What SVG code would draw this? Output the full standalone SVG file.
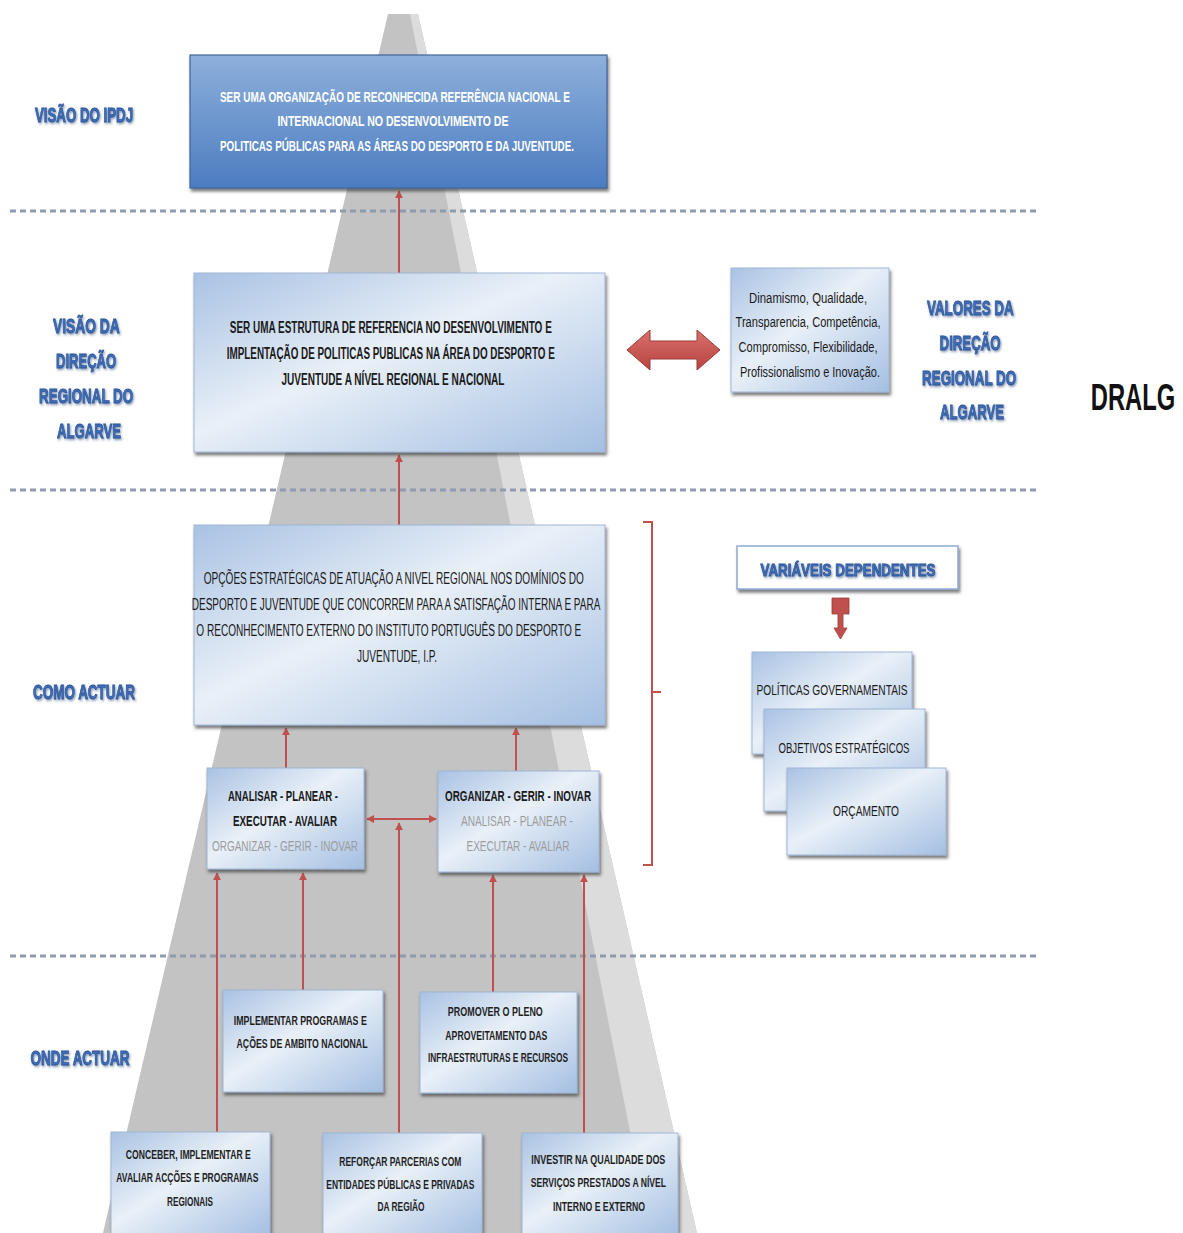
<svg xmlns="http://www.w3.org/2000/svg" width="1183" height="1233" viewBox="0 0 1183 1233">
<defs>
<style>
.bt{font-family:"Liberation Sans",Arial,sans-serif;font-weight:bold;fill:#1a1a1a;text-anchor:middle}
.mt{font-family:"Liberation Sans",Arial,sans-serif;font-weight:bold;fill:#1f1f1f;text-anchor:middle}
.wt{font-family:"Liberation Sans",Arial,sans-serif;font-weight:bold;fill:#ffffff;text-anchor:middle}
.gt{font-family:"Liberation Sans",Arial,sans-serif;fill:#9c9c9c;text-anchor:middle}
.nt{font-family:"Liberation Sans",Arial,sans-serif;fill:#1a1a1a;text-anchor:middle}
.lab{font-family:"Liberation Sans",Arial,sans-serif;font-weight:bold;fill:#3e6db8;stroke:#2d5597;stroke-width:0.8;text-anchor:middle}
.box{fill:url(#lb);stroke:#9fb5d3;stroke-width:1}
.con{stroke:#c0504d;stroke-width:2;fill:none}
.dash{stroke:#8d9cae;stroke-width:3;stroke-dasharray:6 4}
</style>
<linearGradient id="lb" x1="0" y1="0" x2="1" y2="1">
<stop offset="0" stop-color="#a9c2e3"/>
<stop offset="0.45" stop-color="#e9f0f8"/>
<stop offset="1" stop-color="#a4bfe2"/>
</linearGradient>
<linearGradient id="db" x1="0" y1="0" x2="0" y2="1">
<stop offset="0" stop-color="#8eb0db"/>
<stop offset="1" stop-color="#4c7cc0"/>
</linearGradient>
<linearGradient id="ra" x1="0" y1="0" x2="0" y2="1">
<stop offset="0" stop-color="#d9706d"/>
<stop offset="1" stop-color="#b8433f"/>
</linearGradient>
<filter id="sh" x="-10%" y="-10%" width="125%" height="130%">
<feDropShadow dx="1.5" dy="3" stdDeviation="1.5" flood-color="#3a3a3a" flood-opacity="0.65"/>
</filter>
<filter id="ts" x="-10%" y="-20%" width="120%" height="150%">
<feDropShadow dx="1" dy="1.5" stdDeviation="1" flood-color="#1f3c6e" flood-opacity="0.55"/>
</filter>
<marker id="ah" viewBox="0 0 10 10" refX="9" refY="5" markerWidth="4" markerHeight="4" orient="auto-start-reverse">
<path d="M0,0 L10,5 L0,10 z" fill="#c0504d"/>
</marker>
</defs>
<rect width="1183" height="1233" fill="#ffffff"/>

<g id="pyramid">
<polygon points="388,14 418,14 697,1233 103,1233" fill="#c3c3c3"/>
<polygon points="410,14 418,14 697,1233 650,1233" fill="#dcdcdc"/>
</g>

<g id="separators">
<line class="dash" x1="10" y1="211" x2="1040" y2="211"/>
<line class="dash" x1="10" y1="490" x2="1040" y2="490"/>
<line class="dash" x1="10" y1="956" x2="1040" y2="956"/>
</g>

<g id="labels">
<text class="lab" filter="url(#ts)" x="84" y="122" font-size="20" textLength="98" lengthAdjust="spacingAndGlyphs">VISÃO DO IPDJ</text>
<text class="lab" filter="url(#ts)" font-size="21">
<tspan x="89" y="333" textLength="66" lengthAdjust="spacingAndGlyphs">VISÃO DA</tspan>
<tspan x="89" y="368" textLength="60" lengthAdjust="spacingAndGlyphs">DIREÇÃO</tspan>
<tspan x="89" y="403" textLength="94" lengthAdjust="spacingAndGlyphs">REGIONAL DO</tspan>
<tspan x="89" y="438" textLength="64" lengthAdjust="spacingAndGlyphs">ALGARVE</tspan>
</text>
<text class="lab" filter="url(#ts)" x="84" y="699" font-size="20" textLength="102" lengthAdjust="spacingAndGlyphs">COMO ACTUAR</text>
<text class="lab" filter="url(#ts)" x="80" y="1065" font-size="20" textLength="99" lengthAdjust="spacingAndGlyphs">ONDE ACTUAR</text>
<text class="lab" filter="url(#ts)" font-size="21">
<tspan x="973" y="315" textLength="86" lengthAdjust="spacingAndGlyphs">VALORES DA</tspan>
<tspan x="973" y="350" textLength="61" lengthAdjust="spacingAndGlyphs">DIREÇÃO</tspan>
<tspan x="972" y="385" textLength="94" lengthAdjust="spacingAndGlyphs">REGIONAL DO</tspan>
<tspan x="972" y="419" textLength="64" lengthAdjust="spacingAndGlyphs">ALGARVE</tspan>
</text>
<text transform="translate(1133,410) scale(0.66,1)" x="0" y="0" font-family="Liberation Sans, Arial, sans-serif" font-weight="bold" font-size="36" fill="#111111" text-anchor="middle">DRALG</text>
</g>

<g id="connectors">
<line class="con" x1="399" y1="273" x2="399" y2="191" marker-end="url(#ah)"/>
<line class="con" x1="399" y1="525" x2="399" y2="455" marker-end="url(#ah)"/>
<line class="con" x1="286" y1="768" x2="286" y2="728" marker-end="url(#ah)"/>
<line class="con" x1="516" y1="771" x2="516" y2="728" marker-end="url(#ah)"/>
<line class="con" x1="217" y1="1132" x2="217" y2="873" marker-end="url(#ah)"/>
<line class="con" x1="303" y1="990" x2="303" y2="873" marker-end="url(#ah)"/>
<line class="con" x1="493" y1="992" x2="493" y2="875" marker-end="url(#ah)"/>
<line class="con" x1="584" y1="1133" x2="584" y2="875" marker-end="url(#ah)"/>
<line class="con" x1="399" y1="1133" x2="399" y2="823" marker-end="url(#ah)"/>
<line class="con" x1="367" y1="819" x2="436" y2="819" stroke-width="2.5" marker-start="url(#ah)" marker-end="url(#ah)"/>
<path class="con" d="M643,522 L652,522 L652,865 L643,865 M652,692 L661,692"/>
<polygon points="627,350 650,330 650,341 697,341 697,330 720,350 697,370 697,359 650,359 650,370" fill="url(#ra)" stroke="#9b3a37" stroke-width="1"/>
<path d="M832,598 L849,598 L849,614 L843,614 L843,628 L847,628 L840.5,639 L834,628 L838,628 L838,614 L832,614 Z" fill="#c0504d" stroke="#9b3a37" stroke-width="0.8"/>
</g>

<g id="n-ipdj">
<rect x="190" y="55" width="417" height="133" fill="url(#db)" stroke="#3f6699" stroke-width="1.2" filter="url(#sh)"/>
<text class="wt" font-size="15">
<tspan x="397" y="102" textLength="350" lengthAdjust="spacingAndGlyphs">SER UMA ORGANIZAÇÃO DE RECONHECIDA REFERÊNCIA NACIONAL E</tspan>
<tspan x="395" y="126" textLength="231" lengthAdjust="spacingAndGlyphs">INTERNACIONAL NO DESENVOLVIMENTO DE</tspan>
<tspan x="397" y="151" textLength="354" lengthAdjust="spacingAndGlyphs">POLITICAS PÚBLICAS PARA AS ÁREAS DO DESPORTO E DA JUVENTUDE.</tspan>
</text>
</g>

<g id="n-visao-dralg">
<rect class="box" x="194" y="273" width="411" height="179" filter="url(#sh)"/>
<text class="bt" font-size="16">
<tspan x="393" y="333" textLength="322" lengthAdjust="spacingAndGlyphs">SER UMA ESTRUTURA DE REFERENCIA NO DESENVOLVIMENTO E</tspan>
<tspan x="393" y="359" textLength="328" lengthAdjust="spacingAndGlyphs">IMPLENTAÇÃO DE POLITICAS PUBLICAS NA ÁREA DO DESPORTO E</tspan>
<tspan x="393" y="385" textLength="223" lengthAdjust="spacingAndGlyphs">JUVENTUDE A NÍVEL REGIONAL E NACIONAL</tspan>
</text>
</g>

<g id="n-valores">
<rect class="box" x="731" y="268" width="158" height="124" filter="url(#sh)"/>
<text class="nt" font-size="14">
<tspan x="810" y="303" textLength="118" lengthAdjust="spacingAndGlyphs">Dinamismo, Qualidade,</tspan>
<tspan x="810" y="327" textLength="145" lengthAdjust="spacingAndGlyphs">Transparencia, Competência,</tspan>
<tspan x="810" y="352" textLength="139" lengthAdjust="spacingAndGlyphs">Compromisso, Flexibilidade,</tspan>
<tspan x="810" y="377" textLength="140" lengthAdjust="spacingAndGlyphs">Profissionalismo e Inovação.</tspan>
</text>
</g>

<g id="n-opcoes">
<rect class="box" x="194" y="525" width="411" height="200" filter="url(#sh)"/>
<text class="nt" font-size="16">
<tspan x="396" y="584" textLength="380" lengthAdjust="spacingAndGlyphs">OPÇÕES ESTRATÉGICAS DE ATUAÇÃO A NIVEL REGIONAL NOS DOMÍNIOS DO</tspan>
<tspan x="398" y="610" textLength="408" lengthAdjust="spacingAndGlyphs">DESPORTO E JUVENTUDE QUE CONCORREM PARA A SATISFAÇÃO INTERNA E PARA</tspan>
<tspan x="391" y="636" textLength="385" lengthAdjust="spacingAndGlyphs">O RECONHECIMENTO EXTERNO DO INSTITUTO PORTUGUÊS DO DESPORTO E</tspan>
<tspan x="397" y="662" textLength="80" lengthAdjust="spacingAndGlyphs">JUVENTUDE, I.P.</tspan>
</text>
</g>

<g id="n-analisar">
<rect class="box" x="207" y="768" width="157" height="101" filter="url(#sh)"/>
<text class="bt" font-size="15">
<tspan x="285" y="801" textLength="110" lengthAdjust="spacingAndGlyphs">ANALISAR - PLANEAR -</tspan>
<tspan x="285" y="826" textLength="104" lengthAdjust="spacingAndGlyphs">EXECUTAR - AVALIAR</tspan>
</text>
<text class="gt" font-size="15" x="285" y="851" textLength="146" lengthAdjust="spacingAndGlyphs">ORGANIZAR - GERIR - INOVAR</text>
</g>

<g id="n-organizar">
<rect class="box" x="438" y="771" width="161" height="101" filter="url(#sh)"/>
<text class="bt" font-size="15" x="518" y="801" textLength="146" lengthAdjust="spacingAndGlyphs">ORGANIZAR - GERIR - INOVAR</text>
<text class="gt" font-size="15">
<tspan x="519" y="826" textLength="112" lengthAdjust="spacingAndGlyphs">ANALISAR - PLANEAR -</tspan>
<tspan x="518" y="851" textLength="103" lengthAdjust="spacingAndGlyphs">EXECUTAR - AVALIAR</tspan>
</text>
</g>

<g id="n-variaveis">
<rect x="737" y="546" width="221" height="43" fill="#ffffff" stroke="#8eaad6" stroke-width="1.5" filter="url(#sh)"/>
<text class="lab" x="848" y="576" font-size="17" textLength="175" lengthAdjust="spacingAndGlyphs" filter="url(#ts)">VARIÁVEIS DEPENDENTES</text>
</g>

<g id="n-politicas">
<rect class="box" x="752" y="652" width="160" height="102" filter="url(#sh)"/>
<text class="nt" font-size="14" x="832" y="695" textLength="151" lengthAdjust="spacingAndGlyphs">POLÍTICAS GOVERNAMENTAIS</text>
</g>
<g id="n-objetivos">
<rect class="box" x="764" y="709" width="161" height="102" filter="url(#sh)"/>
<text class="nt" font-size="14" x="844" y="753" textLength="131" lengthAdjust="spacingAndGlyphs">OBJETIVOS ESTRATÉGICOS</text>
</g>
<g id="n-orcamento">
<rect class="box" x="787" y="768" width="159" height="87" filter="url(#sh)"/>
<text class="nt" font-size="14" x="866" y="816" textLength="66" lengthAdjust="spacingAndGlyphs">ORÇAMENTO</text>
</g>

<g id="n-implementar">
<rect class="box" x="223" y="990" width="160" height="102" filter="url(#sh)"/>
<text class="mt" font-size="12">
<tspan x="302" y="1025" textLength="133" lengthAdjust="spacingAndGlyphs">IMPLEMENTAR PROGRAMAS E</tspan>
<tspan x="302" y="1048" textLength="131" lengthAdjust="spacingAndGlyphs">AÇÕES DE AMBITO NACIONAL</tspan>
</text>
</g>

<g id="n-promover">
<rect class="box" x="420" y="992" width="157" height="101" filter="url(#sh)"/>
<text class="mt" font-size="12">
<tspan x="497" y="1016" textLength="95" lengthAdjust="spacingAndGlyphs">PROMOVER O PLENO</tspan>
<tspan x="498" y="1040" textLength="102" lengthAdjust="spacingAndGlyphs">APROVEITAMENTO DAS</tspan>
<tspan x="498" y="1062" textLength="140" lengthAdjust="spacingAndGlyphs">INFRAESTRUTURAS  E RECURSOS</tspan>
</text>
</g>

<g id="n-conceber">
<rect class="box" x="111" y="1132" width="159" height="104" filter="url(#sh)"/>
<text class="mt" font-size="12">
<tspan x="190" y="1159" textLength="125" lengthAdjust="spacingAndGlyphs">CONCEBER, IMPLEMENTAR E</tspan>
<tspan x="189" y="1182" textLength="142" lengthAdjust="spacingAndGlyphs">AVALIAR ACÇÕES E PROGRAMAS</tspan>
<tspan x="190" y="1206" textLength="46" lengthAdjust="spacingAndGlyphs">REGIONAIS</tspan>
</text>
</g>

<g id="n-reforcar">
<rect class="box" x="323" y="1133" width="159" height="104" filter="url(#sh)"/>
<text class="mt" font-size="12">
<tspan x="402" y="1166" textLength="122" lengthAdjust="spacingAndGlyphs">REFORÇAR PARCERIAS COM</tspan>
<tspan x="402" y="1189" textLength="148" lengthAdjust="spacingAndGlyphs">ENTIDADES PÚBLICAS E PRIVADAS</tspan>
<tspan x="401" y="1211" textLength="47" lengthAdjust="spacingAndGlyphs">DA REGIÃO</tspan>
</text>
</g>

<g id="n-investir">
<rect class="box" x="522" y="1133" width="156" height="104" filter="url(#sh)"/>
<text class="mt" font-size="12">
<tspan x="600" y="1164" textLength="134" lengthAdjust="spacingAndGlyphs">INVESTIR NA QUALIDADE DOS</tspan>
<tspan x="600" y="1187" textLength="135" lengthAdjust="spacingAndGlyphs">SERVIÇOS PRESTADOS A NÍVEL</tspan>
<tspan x="599" y="1211" textLength="92" lengthAdjust="spacingAndGlyphs">INTERNO E EXTERNO</tspan>
</text>
</g>
</svg>
